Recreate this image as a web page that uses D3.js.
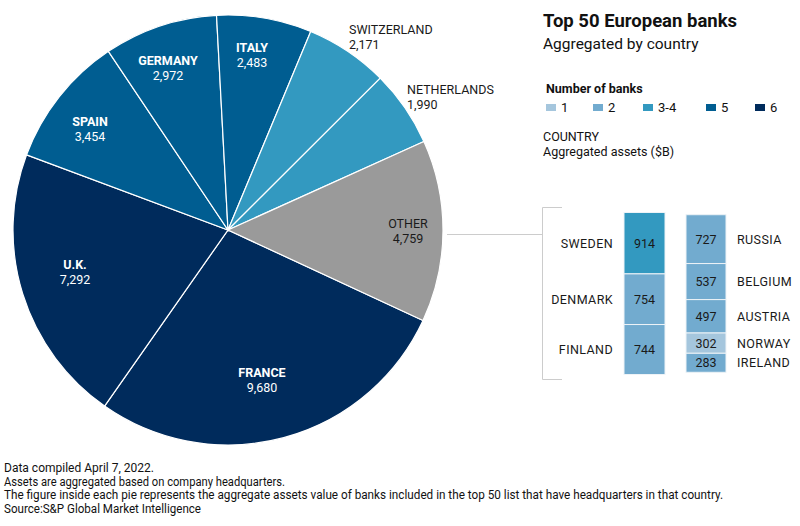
<!DOCTYPE html>
<html><head><meta charset="utf-8">
<script src="https://cdn.jsdelivr.net/npm/d3@7"></script>
<style>
body{margin:0;background:#fff;}
svg{display:block;font-family:"Roboto","Liberation Sans",sans-serif;}
</style></head>
<body><svg id="c" width="800" height="526"></svg>
<script>
// ---- data ----
const pieCountries = ["FRANCE","U.K.","SPAIN","GERMANY","ITALY","SWITZERLAND","NETHERLANDS","OTHER"];
const pieAssets    = [9680, 7292, 3454, 2972, 2483, 2171, 1990, 4759];
const pieBanks     = ["6","6","5","5","5","3-4","3-4","other"];

const otherLeftCountries  = ["SWEDEN","DENMARK","FINLAND"];
const otherLeftAssets     = [914, 754, 744];
const otherLeftBanks      = ["3-4","2","2"];
const otherRightCountries = ["RUSSIA","BELGIUM","AUSTRIA","NORWAY","IRELAND"];
const otherRightAssets    = [727, 537, 497, 302, 283];
const otherRightBanks     = ["2","2","2","1","2"];

const legendCats = ["1","2","3-4","5","6"];
const footnotes = [
  "Data compiled April 7, 2022.",
  "Assets are aggregated based on company headquarters.",
  "The figure inside each pie represents the aggregate assets value of banks included in the top 50 list that have headquarters in that country.",
  "Source:S&P Global Market Intelligence"
];

// ---- styles / layout ----
const color = d3.scaleOrdinal()
  .domain(["1","2","3-4","5","6","other"])
  .range(["#a5c6dd","#72abcf","#3399c0","#005d91","#002b5c","#9a9a9a"]);
const fmt = d3.format(",");

const svg = d3.select("#c");
const cx = 228, cy = 230, R = 215;

const pieData = pieCountries.map((c,i)=>({country:c, value:pieAssets[i], banks:pieBanks[i]}));
const startA = 114.9*Math.PI/180;
const pie = d3.pie().sort(null).value(d=>d.value).startAngle(startA).endAngle(startA+2*Math.PI);
const arcs = pie(pieData);
const arc = d3.arc().innerRadius(0).outerRadius(R);

const g = svg.append("g").attr("transform",`translate(${cx},${cy})`);
g.selectAll("path").data(arcs).join("path")
  .attr("d",arc)
  .attr("fill",d=>color(d.data.banks))
  .attr("stroke","#fff").attr("stroke-width",1.2);

// label block centres relative to the pie centre
const labelPos = {
  "FRANCE":[34,150], "U.K.":[-153,42], "SPAIN":[-138,-101], "GERMANY":[-60,-162],
  "ITALY":[24,-175], "OTHER":[180,1], "SWITZERLAND":[121,-193], "NETHERLANDS":[179,-133]
};
const outside = new Set(["SWITZERLAND","NETHERLANDS"]);
arcs.forEach(a=>{
  const name=a.data.country;
  const [x,c]=labelPos[name];
  const y=c-1;
  const isOut=outside.has(name);
  const dark = isOut||name==="OTHER";
  const t=g.append("text").attr("x",x).attr("y",y)
    .attr("text-anchor",isOut?"start":"middle").attr("fill",dark?"#1a1a1a":"#fff")
    .style("font-size","12.5px");
  t.append("tspan").attr("x",x).attr("dy","-0.15em")
    .style("font-weight",dark?400:700).text(name);
  t.append("tspan").attr("x",x).attr("dy","1.15em").text(fmt(a.data.value));
});

// ---- "Other" breakdown ----
const gray="#cccccc";
svg.append("line").attr("x1",447).attr("x2",542).attr("y1",234.5).attr("y2",234.5).attr("stroke",gray);
svg.append("path").attr("d","M562,207.5H542.5V379.5H562").attr("fill","none").attr("stroke",gray);

const centerY = 293.5;
const hScale = d3.scaleLinear().domain([0,2412]).range([0,162]);

function stack(countries, assets, banks, x0, w, side){
  const total=d3.sum(assets);
  let y=centerY-hScale(total)/2;
  countries.forEach((c,i)=>{
    const h=hScale(assets[i]);
    svg.append("rect").attr("x",x0).attr("y",y).attr("width",w).attr("height",h)
      .attr("fill",color(banks[i])).attr("stroke","#eef3f7").attr("stroke-width",1);
    svg.append("text").attr("x",x0+w/2).attr("y",y+h/2+4.5).attr("text-anchor","middle")
      .attr("fill","#1a1a1a").style("font-size","12.5px").text(fmt(assets[i]));
    const lx = side==="left" ? x0-11 : x0+w+11;
    svg.append("text").attr("x",lx).attr("y",y+h/2+4.5)
      .attr("text-anchor",side==="left"?"end":"start")
      .attr("fill","#1a1a1a").style("font-size","12.5px").style("font-weight",400)
      .style("letter-spacing","0.4px").text(c);
    y+=h;
  });
}
stack(otherLeftCountries, otherLeftAssets, otherLeftBanks, 624, 41, "left");
stack(otherRightCountries, otherRightAssets, otherRightBanks, 686, 40, "right");

// ---- title & legend ----
svg.append("text").attr("x",543).attr("y",27).style("font-size","18.5px").style("font-weight",700)
  .attr("fill","#111").text("Top 50 European banks");
svg.append("text").attr("x",543).attr("y",49).style("font-size","15.5px")
  .attr("fill","#111").text("Aggregated by country");
svg.append("text").attr("x",546).attr("y",93).style("font-size","12.5px").style("font-weight",700)
  .attr("fill","#111").text("Number of banks");
const legX=[546,593,643,706,755];
legendCats.forEach((c,i)=>{
  svg.append("rect").attr("x",legX[i]).attr("y",104).attr("width",10).attr("height",7).attr("fill",color(c));
  svg.append("text").attr("x",legX[i]+15).attr("y",112).style("font-size","13px").attr("fill","#111").text(c);
});
svg.append("text").attr("x",543).attr("y",141).style("font-size","12.5px").attr("fill","#111").text("COUNTRY");
svg.append("text").attr("x",543).attr("y",156).style("font-size","12.5px").attr("fill","#111").text("Aggregated assets ($B)");

// ---- footnotes ----
const fnW=[154,285,723,201];
footnotes.forEach((f,i)=>{
  svg.append("text").attr("x",4).attr("y",472+i*13.6)
    .style("font-family","'Liberation Sans Narrow','Roboto',sans-serif")
    .style("font-size","12px").attr("fill","#111")
    .attr("textLength",fnW[i]-4).attr("lengthAdjust","spacingAndGlyphs").text(f);
});
</script></body></html>
